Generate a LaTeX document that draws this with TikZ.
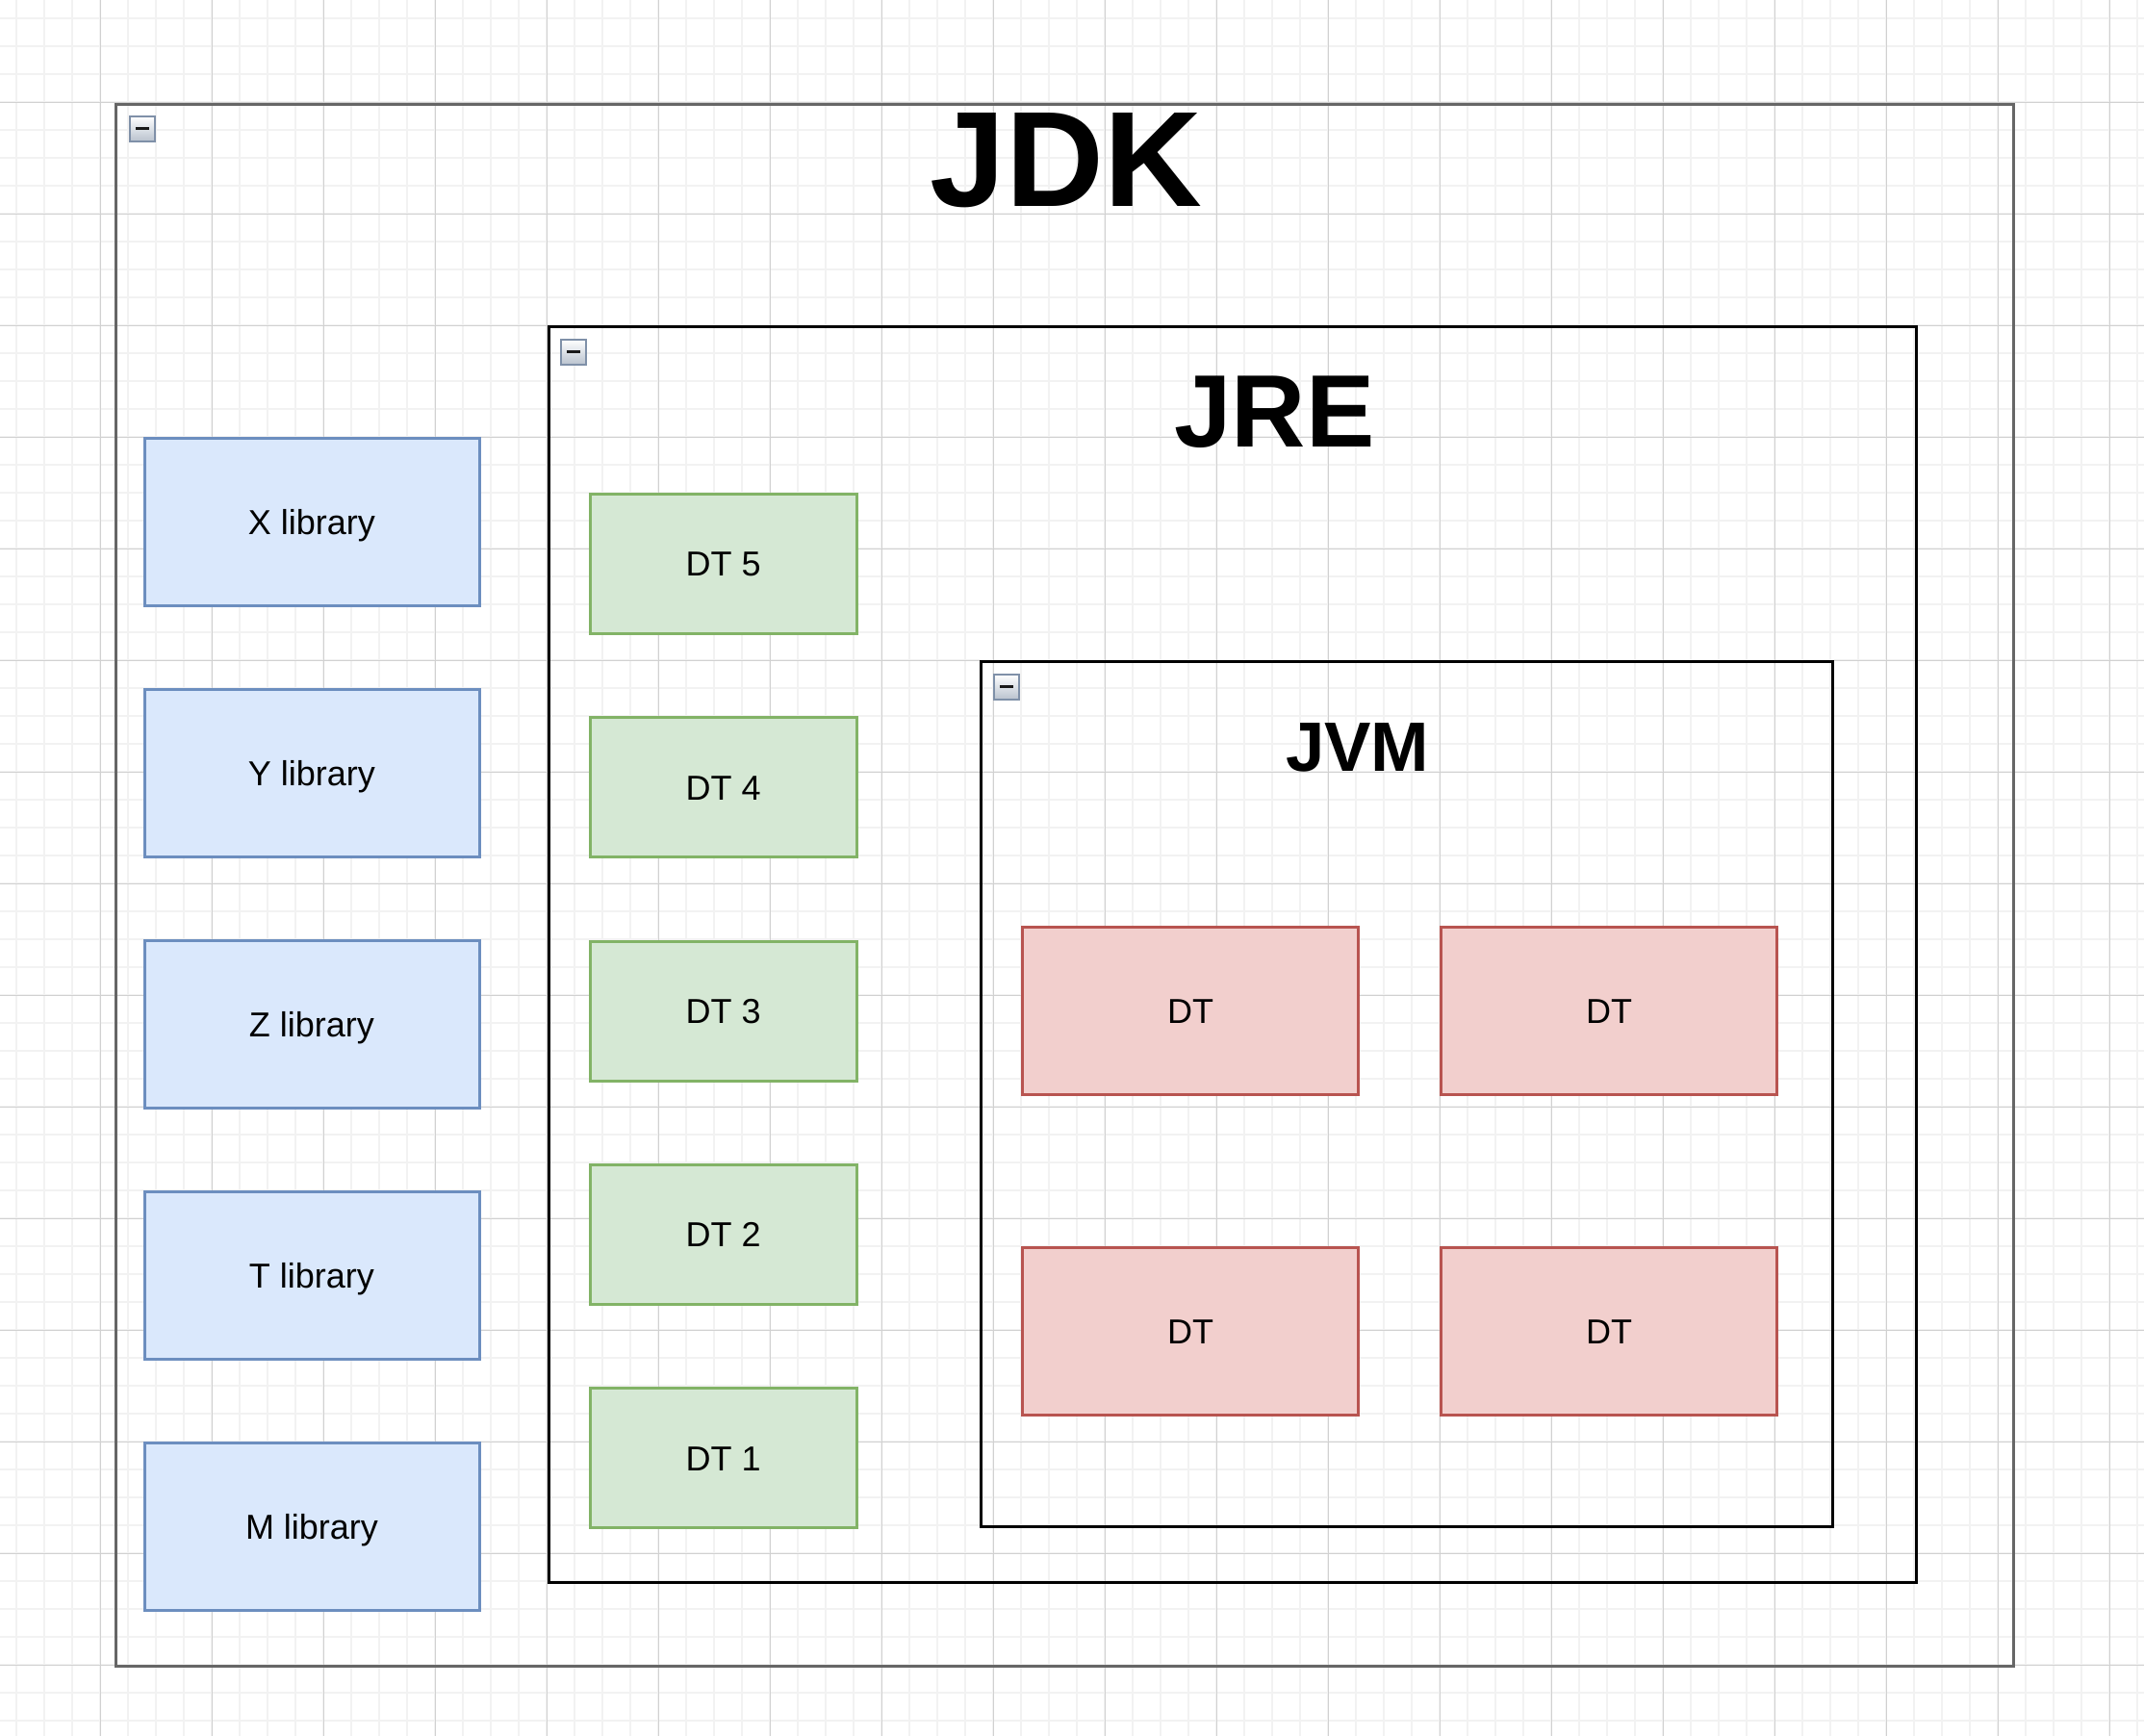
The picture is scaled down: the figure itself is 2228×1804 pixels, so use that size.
\documentclass[tikz,border=0pt]{standalone}
\usepackage{fontspec}
\setmainfont{Liberation Sans}
\usepackage{tikz}

\definecolor{libfill}{HTML}{DAE8FC}
\definecolor{libdraw}{HTML}{6C8EBF}
\definecolor{dtfill}{HTML}{D5E8D4}
\definecolor{dtdraw}{HTML}{82B366}
\definecolor{vmfill}{HTML}{F2CFCD}
\definecolor{vmdraw}{HTML}{B85450}
\definecolor{jdkdraw}{HTML}{666666}
\definecolor{folddraw}{HTML}{7F90A8}
\definecolor{foldlow}{HTML}{B9C2CE}

\tikzset{
  minorgrid/.style={draw=black!5, line width=2pt},
  majorgrid/.style={draw=black!18, line width=1.3pt},
  container/.style={draw=black, line width=3pt, inner sep=0pt},
  libbox/.style={draw=libdraw, fill=libfill, line width=3pt, inner sep=0pt,
    minimum width=348pt, minimum height=174pt, text height=26pt, text depth=0pt,
    font=\fontsize{36}{43}\selectfont},
  dtbox/.style={draw=dtdraw, fill=dtfill, line width=3pt, inner sep=0pt,
    minimum width=277pt, minimum height=145pt, text height=26pt, text depth=0pt,
    font=\fontsize{36}{43}\selectfont},
  vmbox/.style={draw=vmdraw, fill=vmfill, line width=3pt, inner sep=0pt,
    minimum width=349pt, minimum height=174pt, text height=26pt, text depth=0pt,
    font=\fontsize{36}{43}\selectfont},
  foldicon/.style={draw=folddraw, top color=white, bottom color=foldlow,
    line width=1.8pt, minimum size=26pt, inner sep=0pt, anchor=north west},
  foldbar/.style={draw=black!90, line width=3pt},
  title/.style={inner sep=0pt, text depth=0pt}
}

\begin{document}
\begin{tikzpicture}[x=1pt,y=1pt,yscale=-1,xscale=1]
\useasboundingbox (0,0) rectangle (2228,1804);
\fill[white] (0,0) rectangle (2228,1804);

% Grid
\foreach \gx in {0,...,76} \draw[minorgrid] ({17.3+29*\gx},0) -- ++(0,1804);
\foreach \gy in {0,...,61} \draw[minorgrid] (0,{19.3+29*\gy}) -- ++(2228,0);
\foreach \gx in {0,...,18} \draw[majorgrid] ({104.3+116*\gx},0) -- ++(0,1804);
\foreach \gy in {0,...,14} \draw[majorgrid] (0,{106.3+116*\gy}) -- ++(2228,0);

% Containers
\node[container, draw=jdkdraw, minimum width=1972pt, minimum height=1623pt] (jdk) at (1106.7,919.5) {};
\node[container, minimum width=1421.3pt, minimum height=1304.8pt] (jre) at (1280.7,991.9) {};
\node[container, minimum width=885pt, minimum height=899.4pt] (jvm) at (1461.8,1137) {};

% Fold icons
\node[foldicon] (jdkfold) at (134,120) {};
\draw[foldbar] ([xshift=-7pt]jdkfold.center) -- ([xshift=7pt]jdkfold.center);
\node[foldicon] (jrefold) at (582,352) {};
\draw[foldbar] ([xshift=-7pt]jrefold.center) -- ([xshift=7pt]jrefold.center);
\node[foldicon] (jvmfold) at (1032,700) {};
\draw[foldbar] ([xshift=-7pt]jvmfold.center) -- ([xshift=7pt]jvmfold.center);

% Titles
\node[title, text height=101pt, font=\fontsize{141}{170}\selectfont\bfseries] (jdktitle) at (1108,164) {JDK};
\node[title, text height=78pt, font=\fontsize{107}{128}\selectfont\bfseries] (jretitle) at (1324.5,425) {JRE};
\node[title, text height=52pt, font=\fontsize{72.6}{87}\selectfont\bfseries] (jvmtitle) at (1410.8,775) {JVM};

% Libraries
\foreach \name/\lbl [count=\i from 0] in {xlib/X,ylib/Y,zlib/Z,tlib/T,mlib/M}
  \node[libbox] (\name) at (324,{542.5+261*\i}) {\lbl{} library};

% DT boxes in JRE
\foreach \k [count=\i from 0] in {5,4,3,2,1}
  \node[dtbox] (dt\k) at (751.7,{585.8+232.35*\i}) {DT \k};

% DT boxes in JVM
\node[vmbox] (vmdta) at (1237.2,1050) {DT};
\node[vmbox] (vmdtb) at (1672.2,1050) {DT};
\node[vmbox] (vmdtc) at (1237.2,1383.7) {DT};
\node[vmbox] (vmdtd) at (1672.2,1383.7) {DT};

\end{tikzpicture}
\end{document}
